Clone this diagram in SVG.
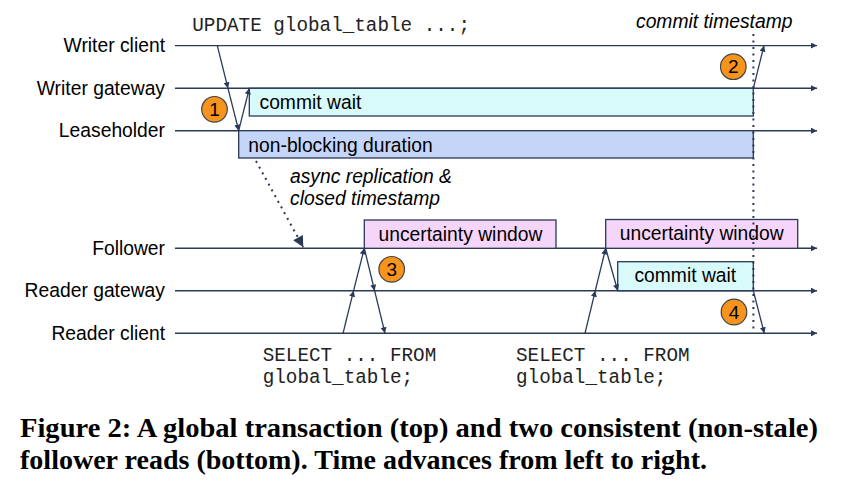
<svg xmlns="http://www.w3.org/2000/svg" width="842" height="486" viewBox="0 0 842 486">
<style>
.tl{stroke:#2a3958;stroke-width:1.4;fill:none}
.ar{stroke:#2a3958;stroke-width:1.3;fill:none;marker-end:url(#ah)}
.box{stroke:#2a3958;stroke-width:1.3}
.lab{font-family:"Liberation Sans",Arial,sans-serif;font-size:19.3px;fill:#000}
.it{font-family:"Liberation Sans",Arial,sans-serif;font-size:19.3px;font-style:italic;fill:#000}
.mono{font-family:"Liberation Mono","Courier New",monospace;font-size:19.3px;fill:#222}
.num{font-family:"Liberation Sans",Arial,sans-serif;font-size:19px;fill:#000;text-anchor:middle}
.circ{fill:#f7941d;stroke:#444;stroke-width:1.2}
.cap{font-family:"Liberation Serif","Times New Roman",serif;font-size:26.5px;font-weight:bold;fill:#000}
.dot{stroke:#2a3958;stroke-width:2;stroke-dasharray:2 4.5;fill:none}
</style>
<defs>
<marker id="ah" viewBox="0 0 10 10" refX="10" refY="5" markerWidth="8" markerHeight="6" orient="auto" markerUnits="userSpaceOnUse"><path d="M0,0 L10,5 L0,10 z" fill="#2a3958"/></marker>
<marker id="big" viewBox="0 0 10 10" refX="10" refY="5" markerWidth="13" markerHeight="11" orient="auto" markerUnits="userSpaceOnUse"><path d="M0,0 L10,5 L0,10 z" fill="#2a3958"/></marker>
</defs>
<rect width="842" height="486" fill="#fff"/>

<g id="timelines">
<line class="tl" x1="175" y1="45.6" x2="817" y2="45.6" marker-end="url(#ah)"/>
<line class="tl" x1="175" y1="88.3" x2="817" y2="88.3" marker-end="url(#ah)"/>
<line class="tl" x1="175" y1="130.7" x2="817" y2="130.7" marker-end="url(#ah)"/>
<line class="tl" x1="175" y1="248.3" x2="817" y2="248.3" marker-end="url(#ah)"/>
<line class="tl" x1="175" y1="290.7" x2="817" y2="290.7" marker-end="url(#ah)"/>
<line class="tl" x1="175" y1="333.3" x2="817" y2="333.3" marker-end="url(#ah)"/>
</g>

<g id="labels">
<text class="lab" x="165" y="52" text-anchor="end">Writer client</text>
<text class="lab" x="165" y="94.7" text-anchor="end">Writer gateway</text>
<text class="lab" x="165" y="137.2" text-anchor="end">Leaseholder</text>
<text class="lab" x="165" y="254.7" text-anchor="end">Follower</text>
<text class="lab" x="165" y="297.2" text-anchor="end">Reader gateway</text>
<text class="lab" x="165" y="339.7" text-anchor="end">Reader client</text>
</g>

<g id="commit-wait-top">
<rect class="box" x="249.3" y="88.3" width="504" height="27.7" fill="#d8fafa"/>
<text class="lab" x="259.5" y="108.5">commit wait</text>
</g>
<g id="non-blocking">
<rect class="box" x="238.7" y="130.7" width="514.6" height="27.3" fill="#c4d5f8"/>
<text class="lab" x="248.3" y="151.7">non-blocking duration</text>
</g>
<g id="uncertainty-1">
<rect class="box" x="364.3" y="220" width="191.7" height="28.3" fill="#f6d5fa"/>
<text class="lab" x="460.5" y="241" text-anchor="middle">uncertainty window</text>
</g>
<g id="uncertainty-2">
<rect class="box" x="605.7" y="219.5" width="192" height="28.8" fill="#f6d5fa"/>
<text class="lab" x="701.7" y="240" text-anchor="middle">uncertainty window</text>
</g>
<g id="commit-wait-bottom">
<rect class="box" x="617.7" y="261.7" width="135.6" height="29" fill="#d8fafa"/>
<text class="lab" x="685.3" y="282" text-anchor="middle">commit wait</text>
</g>

<g id="connectors">
<line class="dot" x1="753.4" y1="34" x2="753.4" y2="330"/>
<line class="dot" x1="256" y1="161" x2="303.3" y2="247.3" marker-end="url(#big)"/>
<line class="ar" x1="217.3" y1="45.6" x2="228" y2="88.3"/>
<line class="ar" x1="228" y1="88.3" x2="238.7" y2="130.7"/>
<line class="ar" x1="238.7" y1="130.7" x2="249.3" y2="88.3"/>
<line class="ar" x1="753.3" y1="88.3" x2="764" y2="45.6"/>
<line class="ar" x1="343" y1="333.3" x2="353.6" y2="290.7"/>
<line class="ar" x1="353.6" y1="290.7" x2="364.3" y2="248.3"/>
<line class="ar" x1="364.3" y1="248.3" x2="374.6" y2="290.7"/>
<line class="ar" x1="374.6" y1="290.7" x2="385" y2="333.3"/>
<line class="ar" x1="585" y1="333.3" x2="595.3" y2="290.7"/>
<line class="ar" x1="595.3" y1="290.7" x2="605.7" y2="248.3"/>
<line class="ar" x1="605.7" y1="248.3" x2="617.7" y2="290.7"/>
<line class="ar" x1="753.3" y1="290.7" x2="764.3" y2="333.3"/>
</g>

<g id="step-1"><circle class="circ" cx="214.5" cy="109.3" r="12.8"/><text class="num" x="214.5" y="116">1</text></g>
<g id="step-2"><circle class="circ" cx="733.3" cy="66.7" r="12.8"/><text class="num" x="733.3" y="73.4">2</text></g>
<g id="step-3"><circle class="circ" cx="391.7" cy="269.3" r="12.8"/><text class="num" x="391.7" y="276">3</text></g>
<g id="step-4"><circle class="circ" cx="734" cy="312" r="12.8"/><text class="num" x="734" y="318.7">4</text></g>

<g id="annotations">
<text class="mono" x="192.3" y="30.5">UPDATE global_table ...;</text>
<text class="it" x="636" y="28">commit timestamp</text>
<text class="it" x="290" y="183.3">async replication &amp;</text>
<text class="it" x="290" y="205.3">closed timestamp</text>
<text class="mono" x="262.7" y="360.5">SELECT ... FROM</text>
<text class="mono" x="262.7" y="383">global_table;</text>
<text class="mono" x="516" y="360.5">SELECT ... FROM</text>
<text class="mono" x="516" y="383">global_table;</text>
</g>

<g id="caption">
<text class="cap" x="20" y="437" textLength="798" lengthAdjust="spacingAndGlyphs">Figure 2: A global transaction (top) and two consistent (non-stale)</text>
<text class="cap" x="20" y="469" textLength="687" lengthAdjust="spacingAndGlyphs">follower reads (bottom). Time advances from left to right.</text>
</g>
</svg>
